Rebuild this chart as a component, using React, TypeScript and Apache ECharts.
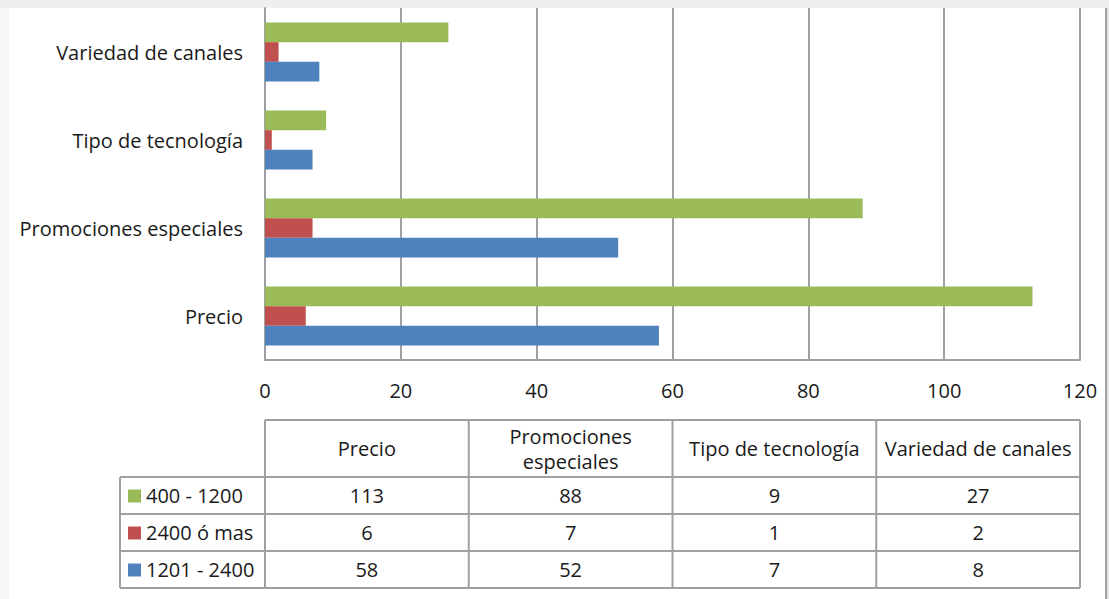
import React, { useEffect, useRef } from "react";
import * as echarts from "echarts";

const categories = ["Precio", "Promociones especiales", "Tipo de tecnología", "Variedad de canales"];
const tableHeaders = ["Precio", "Promociones\nespeciales", "Tipo de tecnología", "Variedad de canales"];
const seriesNames = ["400 - 1200", "2400 ó mas", "1201 - 2400"];
const values400_1200 = [113, 88, 9, 27];
const values2400mas = [6, 7, 1, 2];
const values1201_2400 = [58, 52, 7, 8];
const seriesColors = ["#9BBB59", "#C0504D", "#4F81BD"];
const xMin = 0;
const xMax = 120;
const xInterval = 20;

const FONT = "'Open Sans', sans-serif";
const TEXT = "#1a1a1a";
const LINE = "#a0a0a0";

export default function App() {
  const ref = useRef<HTMLDivElement>(null);
  useEffect(() => {
    if (!ref.current) return;
    const chart = echarts.init(ref.current, null, { renderer: "svg" });
    const W = 1109;
    const H = 599;
    const gridLeft = 265;
    const gridRight = 1080;
    const gridTop = 8;
    const gridBottom = 360;

    const tableSeries = [values400_1200, values2400mas, values1201_2400];
    const colW = (gridRight - gridLeft) / categories.length;
    const headTop = 420;
    const headBottom = 477;
    const rowH = 37;
    const legLeft = 120;
    const tableBottom = headBottom + rowH * tableSeries.length;
    const fs = 20;

    const g: any[] = [];
    // page frame
    g.push({ type: "rect", shape: { x: 0, y: 0, width: W, height: 8 }, style: { fill: "#efefef" }, silent: true });
    g.push({ type: "rect", shape: { x: 0, y: 8, width: 9, height: H - 8 }, style: { fill: "#f6f6f6" }, silent: true });
    g.push({ type: "rect", shape: { x: 1105, y: 8, width: 2, height: H - 8 }, style: { fill: "#a5a5a5" }, silent: true });
    g.push({ type: "rect", shape: { x: 1107, y: 8, width: 2, height: H - 8 }, style: { fill: "#e2e2e2" }, silent: true });

    const hline = (x1: number, x2: number, y: number) =>
      g.push({ type: "line", shape: { x1, y1: y, x2, y2: y }, style: { stroke: LINE, lineWidth: 2 }, silent: true });
    const vline = (x: number, y1: number, y2: number) =>
      g.push({ type: "line", shape: { x1: x, y1, x2: x, y2 }, style: { stroke: LINE, lineWidth: 2 }, silent: true });

    hline(gridLeft, gridRight, headTop);
    for (let r = 0; r <= tableSeries.length; r++) hline(legLeft, gridRight, headBottom + r * rowH);
    vline(legLeft, headBottom, tableBottom);
    for (let c = 0; c <= categories.length; c++) vline(gridLeft + c * colW, headTop, tableBottom);

    tableHeaders.forEach((h, c) => {
      g.push({
        type: "text",
        x: gridLeft + (c + 0.5) * colW,
        y: (headTop + headBottom) / 2,
        style: { text: h, font: `${fs}px ${FONT}`, fill: TEXT, align: "center", verticalAlign: "middle", lineHeight: 25 },
        silent: true,
      });
    });
    tableSeries.forEach((vals, r) => {
      const cy = headBottom + (r + 0.5) * rowH;
      g.push({ type: "rect", shape: { x: 128, y: cy - 6, width: 13, height: 13 }, style: { fill: seriesColors[r] }, silent: true });
      g.push({
        type: "text",
        x: 146,
        y: cy,
        style: { text: seriesNames[r], font: `${fs}px ${FONT}`, fill: TEXT, align: "left", verticalAlign: "middle" },
        silent: true,
      });
      vals.forEach((v, c) => {
        g.push({
          type: "text",
          x: gridLeft + (c + 0.5) * colW,
          y: cy,
          style: { text: String(v), font: `${fs}px ${FONT}`, fill: TEXT, align: "center", verticalAlign: "middle" },
          silent: true,
        });
      });
    });

    const mk = (idx: number, data: number[]) => ({
      name: seriesNames[idx],
      type: "bar",
      data,
      barGap: "0%",
      barCategoryGap: "33%",
      itemStyle: { color: seriesColors[idx] },
    });

    chart.setOption({
      animation: false,
      backgroundColor: "#ffffff",
      grid: { left: gridLeft, right: W - gridRight, top: gridTop, bottom: H - gridBottom, containLabel: false },
      xAxis: {
        type: "value",
        min: xMin,
        max: xMax,
        interval: xInterval,
        axisLine: { show: true, lineStyle: { color: LINE, width: 2 } },
        axisTick: { show: false },
        splitLine: { show: true, lineStyle: { color: LINE, width: 2 } },
        axisLabel: { fontSize: fs, fontFamily: FONT, color: TEXT, margin: 20 },
      },
      yAxis: {
        type: "category",
        data: categories,
        axisLine: { show: true, lineStyle: { color: LINE, width: 2 } },
        axisTick: { show: false },
        axisLabel: { fontSize: fs, fontFamily: FONT, color: TEXT, margin: 22 },
      },
      series: [mk(0, values400_1200), mk(1, values2400mas), mk(2, values1201_2400)],
      graphic: g,
    });
    return () => chart.dispose();
  }, []);
  return (
    <div
      ref={ref}
      style={{ position: "fixed", left: 0, top: 0, width: 1109, height: 599 }}
    />
  );
}
